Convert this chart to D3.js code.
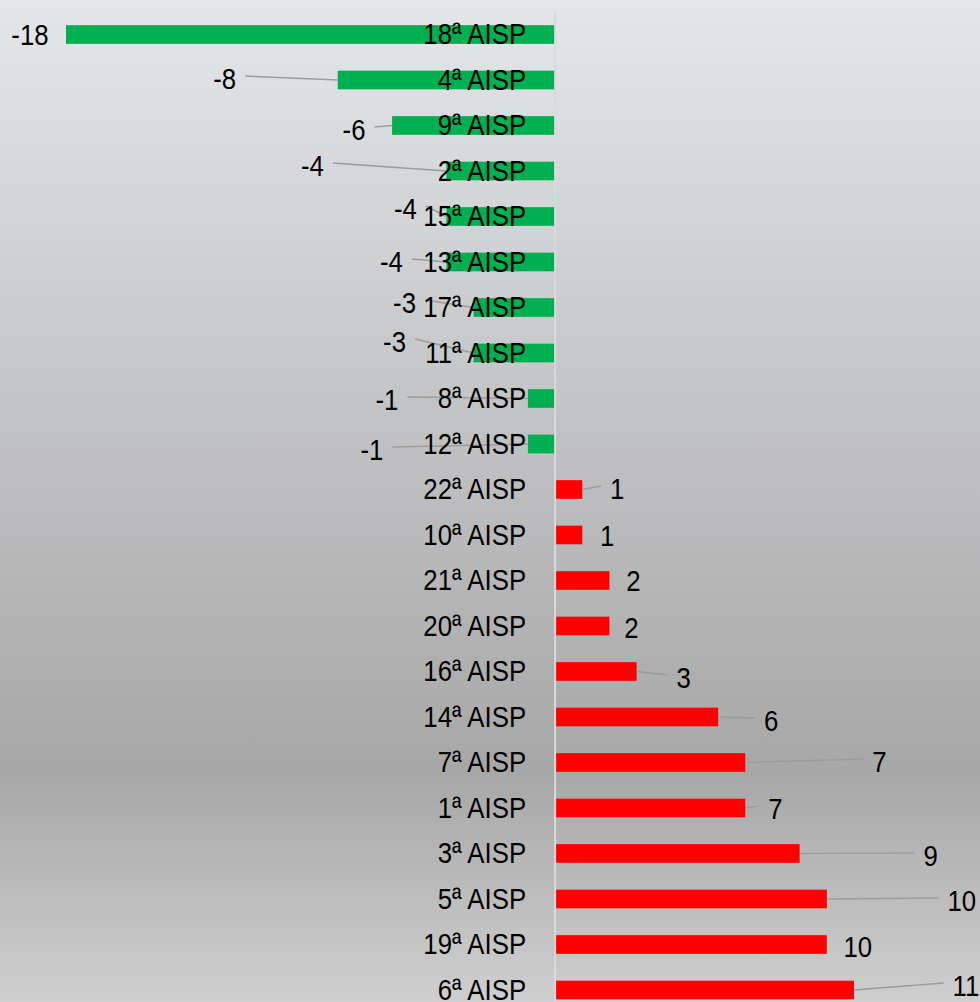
<!DOCTYPE html>
<html>
<head>
<meta charset="utf-8">
<script src="https://cdn.jsdelivr.net/npm/d3@7"></script>
<style>
  body { margin: 0; }
  svg { display: block; }
  text { font-family: "Liberation Sans", Arial, sans-serif; }
</style>
</head>
<body>
<script>
// data, top to bottom
var categories = ["18ª AISP", "4ª AISP", "9ª AISP", "2ª AISP", "15ª AISP", "13ª AISP", "17ª AISP", "11ª AISP",
                  "8ª AISP", "12ª AISP", "22ª AISP", "10ª AISP", "21ª AISP", "20ª AISP", "16ª AISP", "14ª AISP",
                  "7ª AISP", "1ª AISP", "3ª AISP", "5ª AISP", "19ª AISP", "6ª AISP"];
var values = [-18, -8, -6, -4, -4, -4, -3, -3, -1, -1, 1, 1, 2, 2, 3, 6, 7, 7, 9, 10, 10, 11];

// where each data label sits, relative to the end of its bar (layout only)
var labelOffsets = [[-36, 0], [-113, -2], [-38, 3.5], [-134, -6], [-41, -8.5], [-55, -1], [-69, -5.5], [-79, -12],
                    [-141, 0.5], [-156, 5], [35, -1.5], [25, 0], [24, -0.5], [22, 1], [47, 5.5], [53, 3],
                    [134, -1.5], [30, 0], [131, 1.5], [135, 1], [31, 1.5], [112, -5]];
var hasLeader = [false, true, true, true, true, true, true, true, true, true, true, false, false, false, true, true,
                 true, true, true, true, false, true];

var width = 980, height = 1002;
var fontSize = 30, squeeze = 0.86;

var svg = d3.select("body").append("svg")
    .attr("width", width)
    .attr("height", height);

// background gradient
var grad = svg.append("defs").append("linearGradient")
    .attr("id", "bg")
    .attr("x1", 0).attr("y1", 0).attr("x2", 0).attr("y2", 1);
grad.append("stop").attr("offset", "0%").attr("stop-color", "#e4e7ea");
grad.append("stop").attr("offset", "40%").attr("stop-color", "#c3c4c6");
grad.append("stop").attr("offset", "77%").attr("stop-color", "#a7a7a7");
grad.append("stop").attr("offset", "100%").attr("stop-color", "#cfcfcf");

svg.append("rect")
    .attr("width", width)
    .attr("height", height)
    .attr("fill", "url(#bg)");

var x = d3.scaleLinear()
    .domain([-18, 11])
    .range([66, 854]);

var y = d3.scaleBand()
    .domain(categories)
    .range([11.75, 1012.75])
    .paddingInner(0.59)
    .paddingOuter(0.295);

var rows = categories.map(function(c, i) {
  return {cat: c, value: values[i], off: labelOffsets[i], leader: hasLeader[i]};
});

// bars
svg.append("g").selectAll("rect")
  .data(rows)
  .enter().append("rect")
  .attr("x", function(d) { return x(Math.min(0, d.value)); })
  .attr("y", function(d) { return y(d.cat); })
  .attr("width", function(d) { return Math.abs(x(d.value) - x(0)); })
  .attr("height", y.bandwidth())
  .attr("fill", function(d) { return d.value < 0 ? "#00b050" : "#ff0000"; });

// zero axis
svg.append("line")
  .attr("x1", x(0)).attr("x2", x(0))
  .attr("y1", 11).attr("y2", height)
  .attr("stroke", "#d9dadc")
  .attr("stroke-width", 2);

var mid = function(d) { return y(d.cat) + y.bandwidth() / 2; };

// value labels first (hidden measure), then leaders
var leaders = svg.append("g");
var catLabels = svg.append("g");
var valLabels = svg.append("g");

catLabels.selectAll("text")
  .data(rows)
  .enter().append("text")
  .attr("transform", function(d) { return "translate(" + (x(0) - 29) + "," + (mid(d) - 1) + ") scale(" + squeeze + ",1)"; })
  .attr("text-anchor", "end")
  .attr("dy", "0.36em")
  .attr("font-size", fontSize)
  .attr("fill", "#000")
  .text(function(d) { return d.cat; });

valLabels.selectAll("text")
  .data(rows)
  .enter().append("text")
  .attr("transform", function(d) {
    return "translate(" + (x(d.value) + d.off[0]) + "," + (mid(d) + d.off[1]) + ") scale(" + squeeze + ",1)";
  })
  .attr("text-anchor", "middle")
  .attr("dy", "0.36em")
  .attr("font-size", fontSize)
  .attr("fill", "#000")
  .text(function(d) { return d.value; })
  .each(function(d) { d.half = this.getComputedTextLength() * squeeze / 2; });

leaders.selectAll("line")
  .data(rows.filter(function(d) { return d.leader; }))
  .enter().append("line")
  .attr("x1", function(d) {
    var lx = x(d.value) + d.off[0];
    return d.value < 0 ? lx + d.half + 9 : lx - d.half - 9;
  })
  .attr("y1", function(d) { return mid(d) + d.off[1] - 2; })
  .attr("x2", function(d) { return x(d.value); })
  .attr("y2", function(d) { return mid(d); })
  .attr("stroke", "#9c9c9c")
  .attr("stroke-width", 1.5);
</script>
</body>
</html>
